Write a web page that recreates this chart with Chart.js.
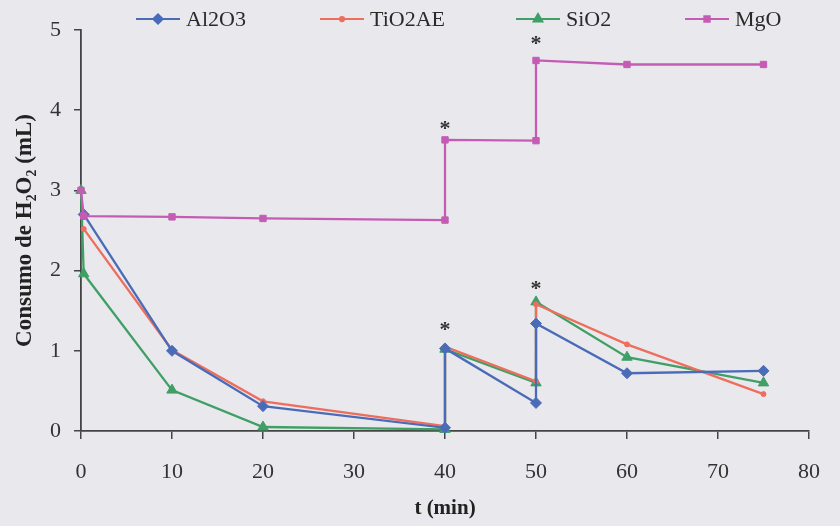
<!DOCTYPE html>
<html>
<head>
<meta charset="utf-8">
<script src="https://cdn.jsdelivr.net/npm/chart.js@4.4.1/dist/chart.umd.min.js"></script>
<style>
  html, body { margin: 0; padding: 0; background: #e9e9ed; }
  #wrap { width: 840px; height: 526px; }
</style>
</head>
<body>
<div id="wrap"><canvas id="c" width="840" height="526"></canvas></div>
<script>
// t (min) - same sampling for every series (steps at 40 and 50 are re-dosings)
const TIME   = [0, 0.3, 10, 20, 40, 40, 50, 50, 60, 75];
const AL2O3  = [null, 2.70, 1.00, 0.31, 0.04, 1.03, 0.35, 1.34, 0.72, 0.75];
const TIO2AE = [null, 2.52, 1.01, 0.37, 0.06, 1.05, 0.62, 1.58, 1.08, 0.46];
const SIO2   = [3.0, 1.96, 0.51, 0.05, 0.02, 1.02, 0.60, 1.61, 0.92, 0.60];
const MGO    = [3.0, 2.68, 2.67, 2.65, 2.63, 3.63, 3.62, 4.62, 4.57, 4.57];

const SERIES_NAMES = ['Al2O3', 'TiO2AE', 'SiO2', 'MgO'];
const X_TICKS = [0, 10, 20, 30, 40, 50, 60, 70, 80];
const Y_TICKS = [0, 1, 2, 3, 4, 5];

// asterisks marking the additions
const STAR_T = [40, 50, 40, 50];
const STAR_V = [3.82, 4.88, 1.31, 1.82];

const SERIF = "'Liberation Serif', 'Times New Roman', serif";

const STYLES = [
    { color: '#4a6bb8', pointStyle: 'rectRot', radius: 5.5, order: 1 },
    { color: '#ee6e5e', pointStyle: 'circle', radius: 2.5, order: 2 },
    { color: '#3f9f66', pointStyle: 'triangle', radius: 6, order: 3 },
    { color: '#c45cb4', pointStyle: 'rect', radius: 4.5, order: 0 },
];

const toPoints = (vals) => vals.map((v, i) => ({ x: TIME[i], y: v }));
const SERIES = [AL2O3, TIO2AE, SIO2, MGO];

const datasets = SERIES.map((vals, i) => ({
    label: SERIES_NAMES[i],
    data: toPoints(vals),
    order: STYLES[i].order,
    borderColor: STYLES[i].color,
    backgroundColor: STYLES[i].color,
    pointBackgroundColor: STYLES[i].color,
    pointBorderColor: STYLES[i].color,
    pointStyle: STYLES[i].pointStyle,
    pointRadius: STYLES[i].radius,
    pointBorderWidth: 1,
    borderWidth: 2.3,
    tension: 0,
    clip: false,
}));

// legend drawn like the Excel one: short line with marker in the middle
const LEGEND_X = [136, 320, 516, 685];
const legendPlugin = {
    id: 'lineLegend',
    afterDraw(chart) {
        const ctx = chart.ctx;
        const y = 19;
        ctx.save();
        ctx.font = '22px ' + SERIF;
        ctx.textBaseline = 'middle';
        datasets.forEach((ds, i) => {
            const x0 = LEGEND_X[i];
            ctx.strokeStyle = ds.borderColor;
            ctx.fillStyle = ds.borderColor;
            ctx.lineWidth = 2;
            ctx.beginPath();
            ctx.moveTo(x0, y);
            ctx.lineTo(x0 + 44, y);
            ctx.stroke();
            Chart.helpers.drawPoint(ctx, {
                pointStyle: ds.pointStyle, radius: ds.pointRadius * 0.85,
                borderWidth: 1, rotation: 0
            }, x0 + 22, y);
            ctx.fillStyle = '#2a2a2a';
            ctx.fillText(ds.label, x0 + 50, y + 1);
        });
        ctx.restore();
    }
};

const starPlugin = {
    id: 'stars',
    afterDatasetsDraw(chart) {
        const { ctx, scales: { x, y } } = chart;
        ctx.save();
        ctx.font = 'bold 22px ' + SERIF;
        ctx.fillStyle = '#333';
        ctx.textAlign = 'center';
        ctx.textBaseline = 'alphabetic';
        STAR_T.forEach((t, i) => {
            ctx.fillText('*', x.getPixelForValue(t), y.getPixelForValue(STAR_V[i]) + 10);
        });
        ctx.restore();
    }
};

const axisLine = '#444';

new Chart(document.getElementById('c'), {
    type: 'line',
    data: { datasets },
    plugins: [legendPlugin, starPlugin],
    options: {
        responsive: false,
        animation: false,
        layout: { padding: { top: 30, right: 20, left: 0, bottom: 0 } },
        plugins: { legend: { display: false }, tooltip: { enabled: false } },
        scales: {
            x: {
                type: 'linear',
                min: 0, max: 80,
                afterBuildTicks: (s) => { s.ticks = X_TICKS.map(v => ({ value: v })); },
                afterFit: (s) => { s.height = 95; },
                ticks: {
                    color: '#333', padding: 20,
                    font: { family: SERIF, size: 22 },
                },
                grid: { drawOnChartArea: false, drawTicks: true, tickLength: 8, color: axisLine, lineWidth: 1.5 },
                border: { color: axisLine, width: 1.8 },
                title: {
                    display: true, text: 't (min)', color: '#222',
                    font: { family: SERIF, size: 21, weight: 'bold' },
                    padding: { top: 0, bottom: 5 },
                },
            },
            y: {
                min: 0, max: 5,
                afterBuildTicks: (s) => { s.ticks = Y_TICKS.map(v => ({ value: v })); },
                afterFit: (s) => { s.width = 81; },
                ticks: {
                    color: '#333', padding: 13,
                    font: { family: SERIF, size: 22 },
                },
                grid: { drawOnChartArea: false, drawTicks: true, tickLength: 7, color: axisLine, lineWidth: 1.5 },
                border: { color: axisLine, width: 1.8 },
                title: {
                    display: true, text: 'Consumo de H₂O₂ (mL)', color: '#222',
                    font: { family: SERIF, size: 23, weight: 'bold' },
                    padding: { top: 11, bottom: 0 },
                },
            },
        },
    },
});
</script>
</body>
</html>
